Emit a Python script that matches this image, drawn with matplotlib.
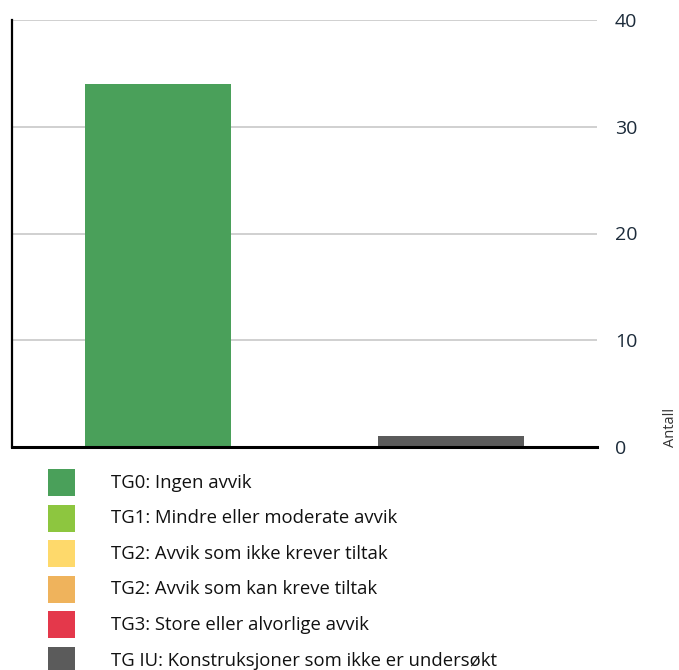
import matplotlib.pyplot as plt
from matplotlib.patches import Rectangle
import numpy as np

plt.rcParams['font.family'] = ['Open Sans', 'DejaVu Sans']

# two unlabeled groups, stacked by condition grade
groups = [0, 1]
series_names = [
    "TG0: Ingen avvik",
    "TG1: Mindre eller moderate avvik",
    "TG2: Avvik som ikke krever tiltak",
    "TG2: Avvik som kan kreve tiltak",
    "TG3: Store eller alvorlige avvik",
    "TG IU: Konstruksjoner som ikke er undersøkt",
]
tg0 = [34, 0]
tg1 = [0, 0]
tg2a = [0, 0]
tg2b = [0, 0]
tg3 = [0, 0]
tgiu = [0, 1]
colors = ["#4aa05a", "#8dc63f", "#fed96b", "#efb35c", "#e4384b", "#5b5b5b"]
yticks = [0, 10, 20, 30, 40]

W, H = 679, 670
fig = plt.figure(figsize=(W / 100, H / 100), dpi=100)
ax = fig.add_axes([12 / W, 1 - 447 / H, 585 / W, 427 / H])

bottom = np.zeros(len(groups))
for vals, col in zip([tg0, tg1, tg2a, tg2b, tg3, tgiu], colors):
    v = np.array(vals, dtype=float)
    ax.bar(groups, v, width=0.5, bottom=bottom, color=col, zorder=3)
    bottom += v

ax.set_xlim(-0.5, 1.5)
ax.set_ylim(0, 40)
ax.set_yticks(yticks)
ax.set_xticks([])
ax.yaxis.tick_right()
ax.tick_params(axis='y', length=0, pad=13, labelsize=14, labelcolor="#1c2b3a")
ax.grid(axis='y', color="#d0d0d0", linewidth=1.4, zorder=0)
for s in ['top', 'right']:
    ax.spines[s].set_visible(False)
ax.spines['left'].set_linewidth(1.6)
ax.spines['bottom'].set_linewidth(2.2)
ax.spines['left'].set_zorder(4)
ax.spines['bottom'].set_zorder(4)

fig.text(670 / W, 1 - 447 / H, "Antall", rotation=90, ha='center', va='bottom',
         fontsize=10.5, color="#333333")

# legend drawn as a simple list below the chart
for i, (name, col) in enumerate(zip(series_names, colors)):
    top = 469 + i * 35.6
    fig.add_artist(Rectangle((48 / W, 1 - (top + 27) / H), 27 / W, 27 / H,
                             transform=fig.transFigure, color=col, lw=0))
    fig.text(111 / W, 1 - (top + 13.5) / H, name, va='center', ha='left',
             fontsize=13.3, color="#111111")

fig.savefig("out.png", dpi=100)
